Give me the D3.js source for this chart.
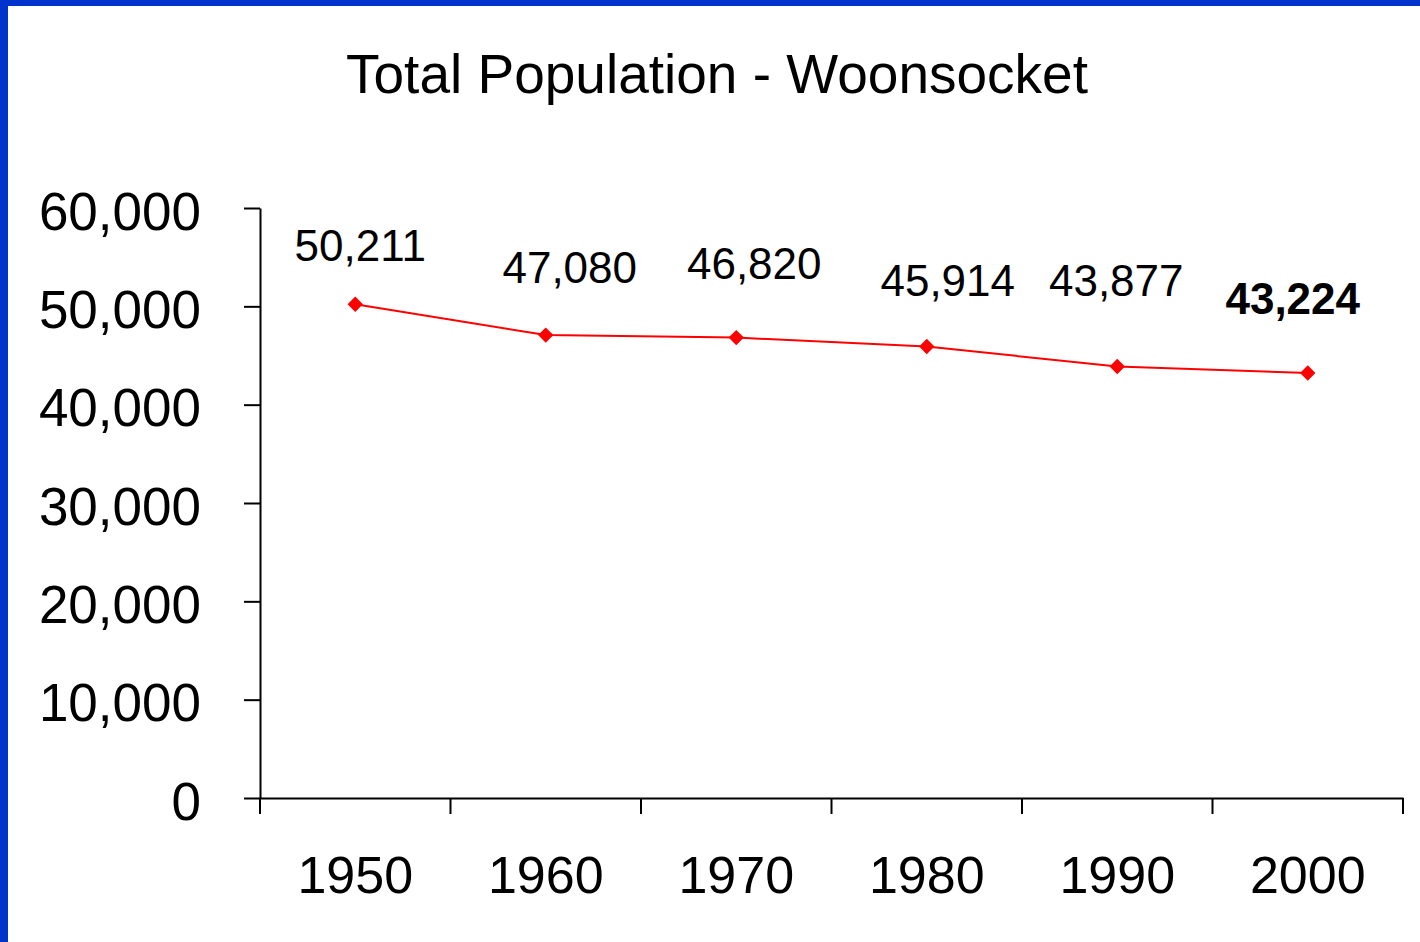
<!DOCTYPE html>
<html>
<head>
<meta charset="utf-8">
<script src="https://cdn.jsdelivr.net/npm/d3@7"></script>
<style>
  html, body { margin: 0; padding: 0; background: #fff; }
  svg { display: block; font-family: "Liberation Sans", Arial, sans-serif; }
</style>
</head>
<body>
<svg id="chart" width="1420" height="942"></svg>
<script>
const years = ["1950", "1960", "1970", "1980", "1990", "2000"];
const population = [50211, 47080, 46820, 45914, 43877, 43224];
const yTicks = [0, 10000, 20000, 30000, 40000, 50000, 60000];

// hand placed label offsets (like the original Excel labels), dx / dy from the marker
const labelNudge = [[5, -43], [24, -52], [18, -59], [21, -51], [-1, -71], [-15, -59]];

const svg = d3.select("#chart");
const W = 1420, H = 942;

// blue frame at top and left
svg.append("rect").attr("x", 0).attr("y", 0).attr("width", W).attr("height", 6).attr("fill", "#0033cc");
svg.append("rect").attr("x", 0).attr("y", 0).attr("width", 8).attr("height", H).attr("fill", "#0033cc");

const plot = { left: 260, right: 1403, top: 208, bottom: 798 };

const x = d3.scaleBand()
    .domain(years)
    .range([plot.left, plot.right])
    .padding(0);

const y = d3.scaleLinear()
    .domain([0, 60000])
    .range([plot.bottom, plot.top]);

svg.append("text")
    .attr("x", 717)
    .attr("y", 93)
    .attr("text-anchor", "middle")
    .style("font-size", "55px")
    .text("Total Population - Woonsocket");

// y axis
const yAxis = svg.append("g")
    .attr("transform", `translate(${plot.left},0)`)
    .call(d3.axisLeft(y).tickValues(yTicks).tickFormat(d3.format(",")).tickSize(16).tickPadding(43).tickSizeOuter(0));
yAxis.select(".domain").attr("stroke", "#000").attr("stroke-width", 2);
yAxis.selectAll(".tick line").attr("stroke", "#000").attr("stroke-width", 2);
yAxis.selectAll(".tick text").style("font-size", "53px").attr("fill", "#000").attr("dy", "0.4em");

// x axis: labels centred in bands, tick marks on band edges
const xAxis = svg.append("g")
    .attr("transform", `translate(0,${plot.bottom})`)
    .call(d3.axisBottom(x).tickSize(0).tickPadding(58).tickSizeOuter(0));
xAxis.select(".domain").attr("stroke", "#000").attr("stroke-width", 2);
xAxis.selectAll(".tick text").style("font-size", "52px").attr("fill", "#000");

const edges = years.map(d => x(d)).concat([x(years[years.length - 1]) + x.bandwidth()]);
xAxis.selectAll(".edge")
    .data(edges)
    .enter()
    .append("line")
    .attr("class", "edge")
    .attr("x1", d => d).attr("x2", d => d)
    .attr("y1", 0).attr("y2", 16)
    .attr("stroke", "#000").attr("stroke-width", 2);

const pts = years.map((d, i) => ({ year: d, value: population[i], i }));
const cx = d => x(d.year) + x.bandwidth() / 2;

svg.append("path")
    .datum(pts)
    .attr("fill", "none")
    .attr("stroke", "#ff0000")
    .attr("stroke-width", 2)
    .attr("d", d3.line().x(cx).y(d => y(d.value)));

svg.selectAll(".marker")
    .data(pts)
    .enter()
    .append("path")
    .attr("class", "marker")
    .attr("transform", d => `translate(${cx(d)},${y(d.value)})`)
    .attr("d", d3.symbol().type(d3.symbolDiamond2).size(150))
    .attr("fill", "#ff0000");

svg.selectAll(".val")
    .data(pts)
    .enter()
    .append("text")
    .attr("class", "val")
    .attr("x", d => cx(d) + labelNudge[d.i][0])
    .attr("y", d => y(d.value) + labelNudge[d.i][1])
    .attr("text-anchor", "middle")
    .style("font-size", "44px")
    .style("font-weight", d => d.i === pts.length - 1 ? "bold" : "normal")
    .text(d => d3.format(",")(d.value));
</script>
</body>
</html>
